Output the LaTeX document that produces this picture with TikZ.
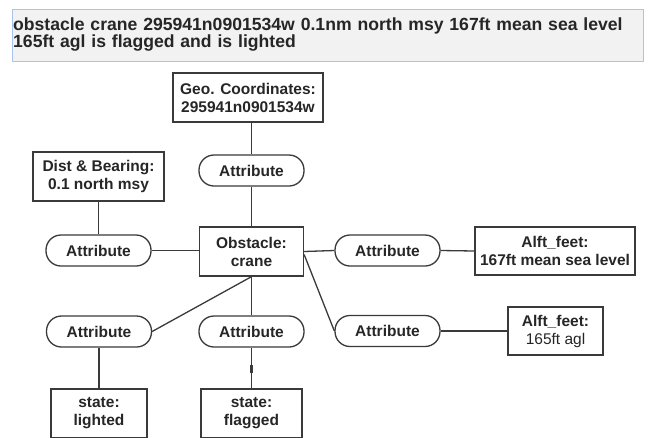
\documentclass[tikz,border=0pt]{standalone}
\usepackage{fontspec}
\setmainfont{Liberation Sans}
\definecolor{linec}{HTML}{3A3A3A}
\definecolor{txt}{HTML}{262626}
\definecolor{hdrfill}{HTML}{F2F2F2}
\definecolor{hdrline}{HTML}{A9C4EB}
\newcommand\diagfont{\fontsize{15.5}{18}\selectfont\bfseries}
\newcommand\hdrfont{\fontsize{17.6}{17.5}\selectfont\bfseries}
\begin{document}
\begin{tikzpicture}[x=1pt,y=-1pt,
  box/.style={draw=linec, line width=1.3pt, fill=white, inner sep=0pt, align=center, font=\diagfont, text=txt},
  attr/.style={draw=linec, line width=1.3pt, fill=white, rounded corners=15pt, inner sep=0pt,
               minimum width=105pt, minimum height=31pt, font=\diagfont, text=txt},
  conn/.style={draw=linec, line width=1.3pt}]
\useasboundingbox (0,0) rectangle (648,437);
\clip (0,0) rectangle (648,437);
\fill[white] (0,0) rectangle (648,437);

% header text box
\draw[fill=hdrfill, draw=hdrline, line width=1pt] (12,9) rectangle (643,61);
\node[anchor=base west, inner sep=0pt, text width=628pt, align=left, font=\hdrfont, text=txt] (hdr) at (13,30)
  {obstacle crane 295941n0901534w 0.1nm north msy 167ft mean sea level\\165ft agl is flagged and is lighted};

% nodes
\node[box, minimum width=150pt, minimum height=49pt] (geo) at (248,97.5) {Geo. Coordinates:\\295941n0901534w};
\node[box, minimum width=131pt, minimum height=49pt] (dist) at (98.5,176.5) {Dist \& Bearing:\\0.1 north msy};
\node[attr] (atop) at (251.5,170.5) {Attribute};
\node[attr] (aleft) at (98.5,250.5) {Attribute};
\node[box, minimum width=104pt, minimum height=49pt] (obs) at (251.5,251.5) {Obstacle:\\crane};
\node[attr] (ar1) at (387.5,250.5) {Attribute};
\node[box, minimum width=160pt, minimum height=48pt] (alft1) at (555,251) {Alft\_feet:\\167ft mean sea level};
\node[attr] (ar2) at (387.5,331) {Attribute};
\node[box, minimum width=95pt, minimum height=48pt] (alft2) at (555.5,331) {Alft\_feet:\\{\mdseries 165ft agl}};
\node[attr] (all) at (99,331.5) {Attribute};
\node[attr] (alm) at (251.5,331.5) {Attribute};
\node[box, minimum width=96pt, minimum height=49pt] (light) at (99,413.5) {state:\\lighted};
\node[box, minimum width=101pt, minimum height=49pt] (flag) at (251.5,413.5) {state:\\flagged};

% connectors
\draw[conn] (atop.north) -- (atop.north |- geo.south);
\draw[conn] (atop.south) -- (obs.north);
\draw[conn] (dist.south) -- (aleft.north);
\draw[conn] (aleft.east) -- (aleft.east -| obs.west);
\draw[conn] (obs.east) -- (ar1.west);
\draw[conn] (ar1.east) -- (alft1.west);
\draw[conn] ([yshift=-3pt]obs.east) -- (ar2.west);
\draw[conn] (ar2.east) -- (alft2.west);
\draw[conn] (obs.south) -- (all.east);
\draw[conn] (obs.south) -- (alm.north);
\draw[conn] (all.south) -- (light.north);
\draw[conn] (alm.south) -- (flag.north);
\path (alm.south) -- (flag.north) coordinate[pos=0.43] (t1) coordinate[pos=0.62] (t2);
\draw[draw=linec, line width=2.3pt] (t1) -- (t2);
\end{tikzpicture}
\end{document}
